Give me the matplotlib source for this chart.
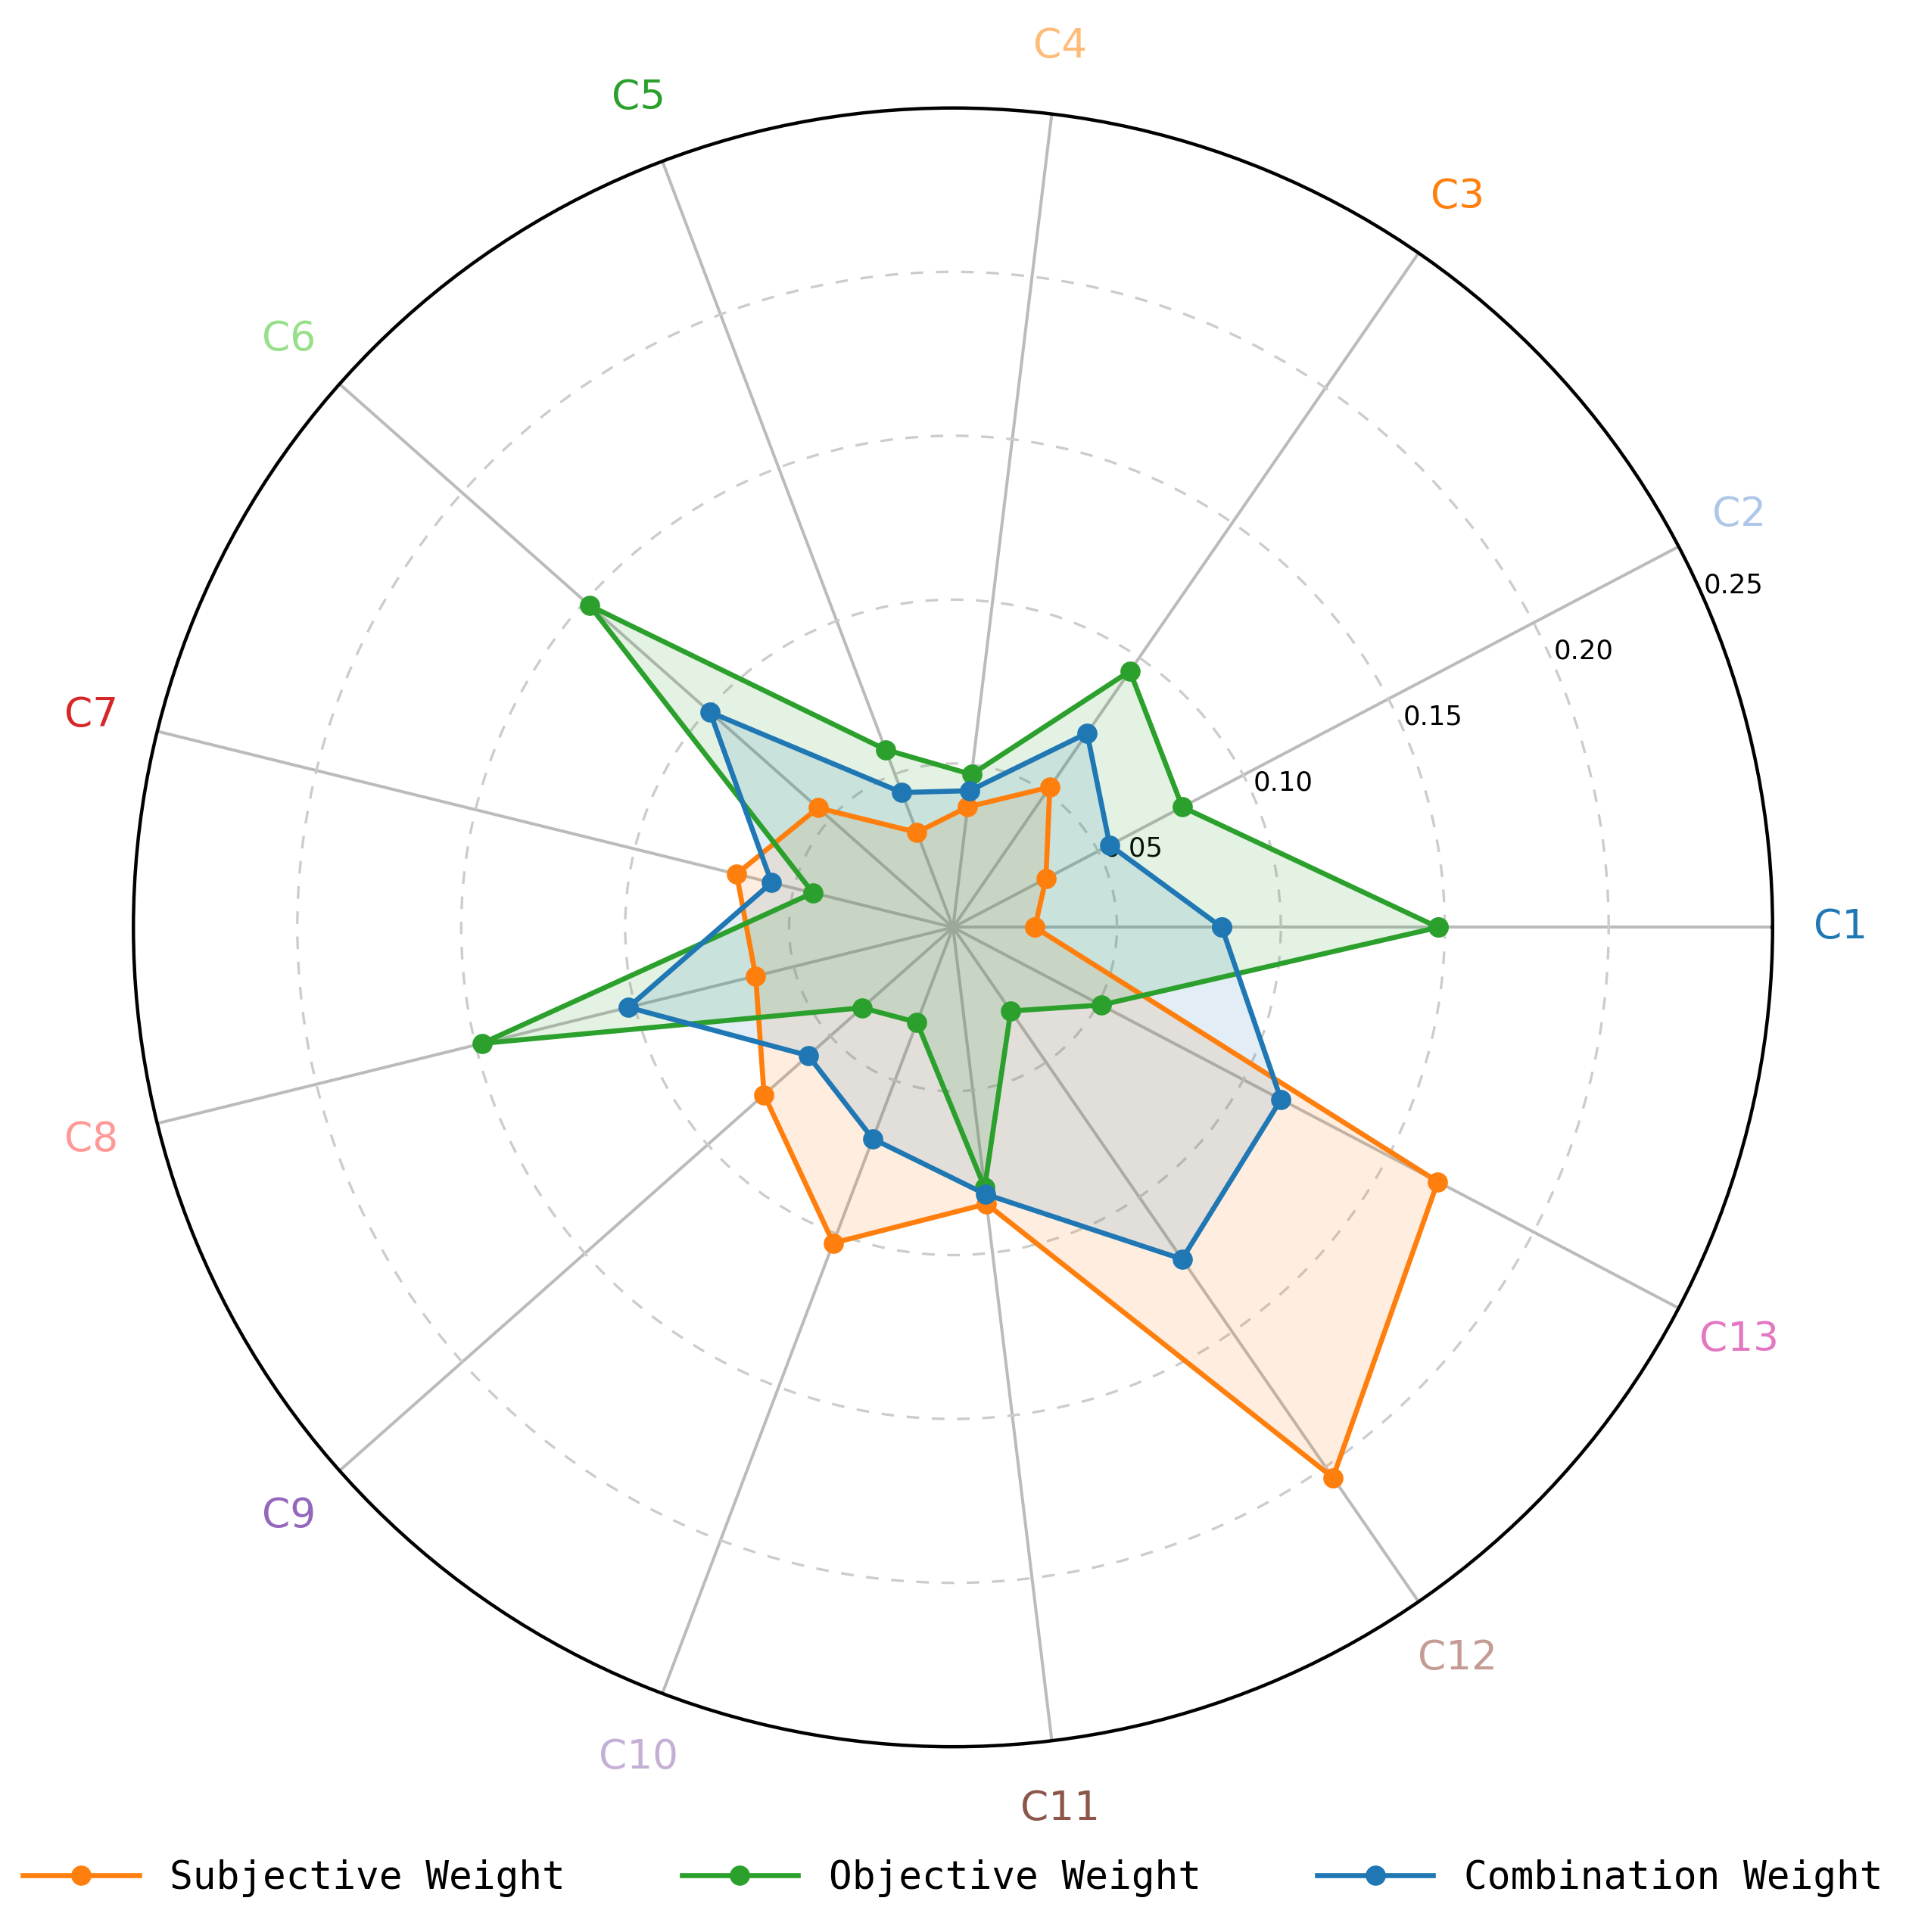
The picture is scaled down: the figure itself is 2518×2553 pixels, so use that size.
import numpy as np
import matplotlib.pyplot as plt

categories = ["C1", "C2", "C3", "C4", "C5", "C6", "C7", "C8", "C9", "C10", "C11", "C12", "C13"]
subjective = [0.025, 0.032, 0.052, 0.037, 0.031, 0.055, 0.068, 0.062, 0.077, 0.103, 0.085, 0.204, 0.167]
objective = [0.148, 0.079, 0.095, 0.047, 0.058, 0.148, 0.044, 0.148, 0.037, 0.031, 0.080, 0.031, 0.051]
combination = [0.082, 0.054, 0.072, 0.042, 0.044, 0.099, 0.057, 0.102, 0.059, 0.069, 0.082, 0.123, 0.113]
ring_ticks = [0.05, 0.10, 0.15, 0.20, 0.25]

label_colors = plt.get_cmap("tab20").colors[:13]

n = len(categories)
angles = np.linspace(0, 2 * np.pi, n, endpoint=False)
closed = np.concatenate([angles, angles[:1]])

fig = plt.figure(figsize=(15.7375, 15.95625), dpi=160)
ax = fig.add_axes([0.07, 0.09, 0.86, 0.86], polar=True)

series = [
    ("Subjective Weight", subjective, "#ff7f0e"),
    ("Objective Weight", objective, "#2ca02c"),
    ("Combination Weight", combination, "#1f77b4"),
]
for name, vals, col in series:
    v = np.concatenate([vals, vals[:1]])
    ax.plot(closed, v, color=col, lw=3, marker="o", ms=11, label=name, zorder=3)
    ax.fill(closed, v, color=col, alpha=0.13, zorder=2)

ax.set_ylim(0, 0.25)
ax.set_yticks(ring_ticks)
ax.set_yticklabels([f"{t:.2f}" for t in ring_ticks], fontsize=16)
ax.set_rlabel_position(np.degrees(angles[1]) - 4)
ax.yaxis.grid(True, ls=(0, (5, 5)), color="#cccccc", lw=1.5)
ax.xaxis.grid(True, color="#bbbbbb", lw=1.8)
ax.set_xticks(angles)
ax.set_xticklabels(categories, fontsize=24)
for lbl, c in zip(ax.get_xticklabels(), label_colors):
    lbl.set_color(c)
ax.tick_params(axis="x", pad=30)
ax.spines["polar"].set_linewidth(2)

fig.legend(loc="lower center", ncol=3, frameon=False,
           bbox_to_anchor=(0.5, 0.0), handlelength=3, columnspacing=3,
           prop={"family": "DejaVu Sans Mono", "size": 23})
fig.savefig("out.png", dpi=160)
